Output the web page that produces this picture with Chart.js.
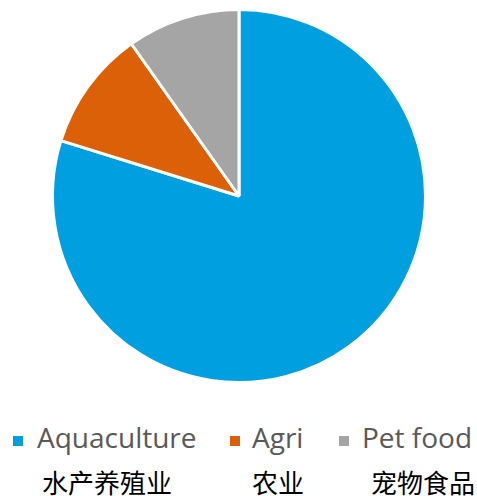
<!DOCTYPE html>
<html lang="en">
<head>
  <meta charset="UTF-8">
  <title>Pie</title>
  <script src="https://cdn.jsdelivr.net/npm/chart.js"></script>
  <style>
    body { margin: 0; background: #fff; }
    #wrap { position: relative; width: 477px; height: 496px; }
    #chart { position: absolute; left: 0; top: 0; }
    .item { position: absolute; font-family: "Open Sans", sans-serif; color: #595959; font-size: 28px; line-height: 1; white-space: nowrap; }
    .box { position: absolute; width: 10px; height: 10px; }
    .cn { position: absolute; font-family: "Noto Sans CJK SC", sans-serif; color: #000; font-size: 26px; line-height: 1; white-space: nowrap; }
  </style>
</head>
<body>
  <div id="wrap">
    <canvas id="chart" width="477" height="400"></canvas>
    <div id="legend"></div>
  </div>
  <script>
    // data
    const labels = ['Aquaculture', 'Agri', 'Pet food'];
    const labelsCn = ['水产养殖业', '农业', '宠物食品'];
    const values = [79.8, 10.4, 9.8];
    const colors = ['#009FDF', '#DB6007', '#A5A5A5'];

    new Chart(document.getElementById('chart'), {
      type: 'pie',
      data: {
        labels: labels,
        datasets: [{
          data: values,
          backgroundColor: colors,
          borderColor: '#ffffff',
          borderWidth: 3
        }]
      },
      options: {
        responsive: false,
        animation: false,
        layout: { padding: { left: 51, right: 50, top: 8, bottom: 16 } },
        plugins: {
          legend: { display: false },
          tooltip: { enabled: false }
        }
      }
    });

    // legend below the pie
    const boxX = [13, 230, 339];
    const textX = [37, 252, 362];
    const cnX = [42, 252, 371];
    const legend = document.getElementById('legend');
    labels.forEach((l, i) => {
      legend.innerHTML += `<div class="box" style="left:${boxX[i]}px;top:436px;background:${colors[i]}"></div>` +
        `<div class="item" style="left:${textX[i]}px;top:423px">${l}</div>` +
        `<div class="cn" style="left:${cnX[i]}px;top:469px">${labelsCn[i]}</div>`;
    });
  </script>
</body>
</html>
